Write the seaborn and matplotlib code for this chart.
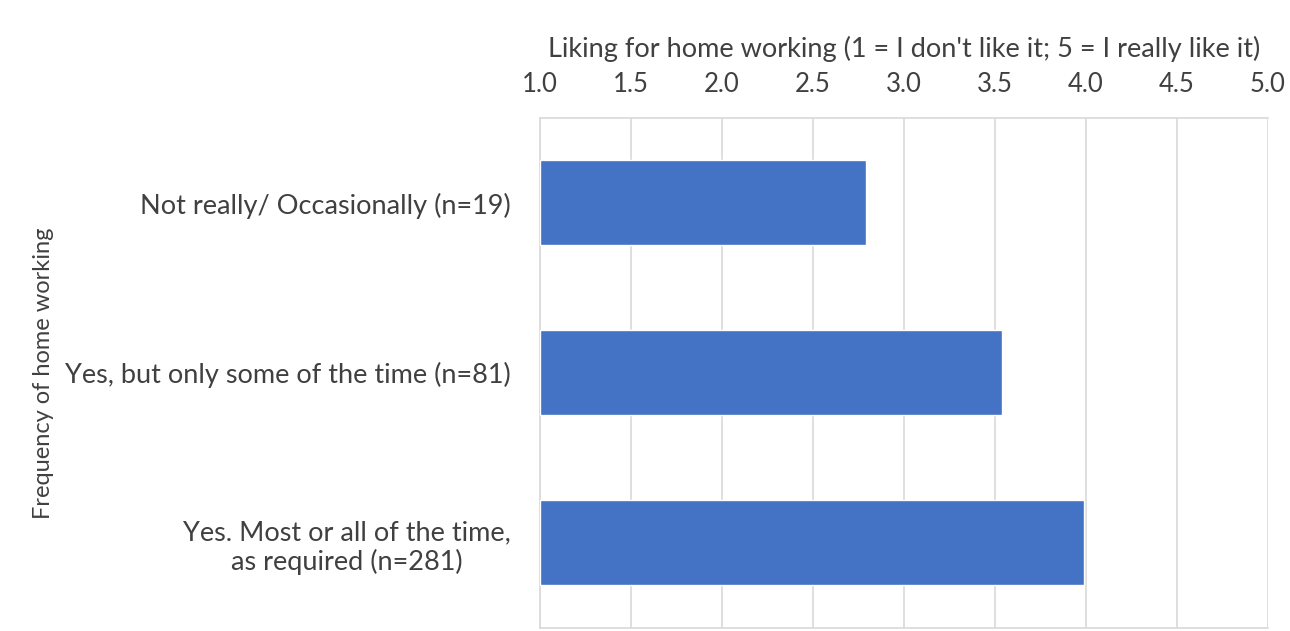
import matplotlib
matplotlib.use("Agg")
import matplotlib.pyplot as plt
import seaborn as sns
import pandas as pd

categories = [
    "Not really/ Occasionally (n=19)",
    "Yes, but only some of the time (n=81)",
    "Yes. Most or all of the time,\nas required (n=281)",
]
liking = [2.79, 3.54, 3.99]
x_ticks = [1.0, 1.5, 2.0, 2.5, 3.0, 3.5, 4.0, 4.5, 5.0]
x_title = "Liking for home working (1 = I don't like it; 5 = I really like it)"
y_title = "Frequency of home working"

sns.set_theme(style="white")
plt.rcParams['font.family'] = ['Lato', 'DejaVu Sans']

df = pd.DataFrame({"cat": categories, "val": liking})

fig = plt.figure(figsize=(12.9, 6.31), dpi=100)
ax = fig.add_axes([0.4186, 0.005, 0.9829 - 0.4186, 0.813 - 0.005])

sns.barplot(data=df, x="val", y="cat", orient="h", color="#4472C4",
            saturation=1, width=0.5, ax=ax, zorder=3)
# bars start at 1.0 (axis origin)
for p in ax.patches:
    w = p.get_width()
    p.set_x(1.0)
    p.set_width(w - 1.0)

ax.set_xlim(1.0, 5.0)
ax.set_ylim(2.5, -0.5)
ax.set_xticks(x_ticks)
ax.set_xticklabels([f"{t:.1f}" for t in x_ticks])
ax.xaxis.tick_top()
ax.xaxis.set_label_position("top")
ax.tick_params(axis="x", length=0, pad=15, labelsize=18.5, labelcolor="#404040")
ax.tick_params(axis="y", length=0, pad=21, labelsize=19.5, labelcolor="#404040")
for lbl in ax.get_yticklabels():
    lbl.set_multialignment("center")
ax.set_xlabel(x_title, fontsize=19.5, color="#404040", labelpad=11)
ax.set_ylabel(y_title, fontsize=17, color="#404040", labelpad=8)
ax.grid(axis="x", color="#D9D9D9", linewidth=1.2, zorder=0)
ax.grid(axis="y", visible=False)
for s in ax.spines.values():
    s.set_color("#D9D9D9")
    s.set_linewidth(1.2)
ax.spines["right"].set_visible(False)

fig.savefig("out.png", dpi=100)
